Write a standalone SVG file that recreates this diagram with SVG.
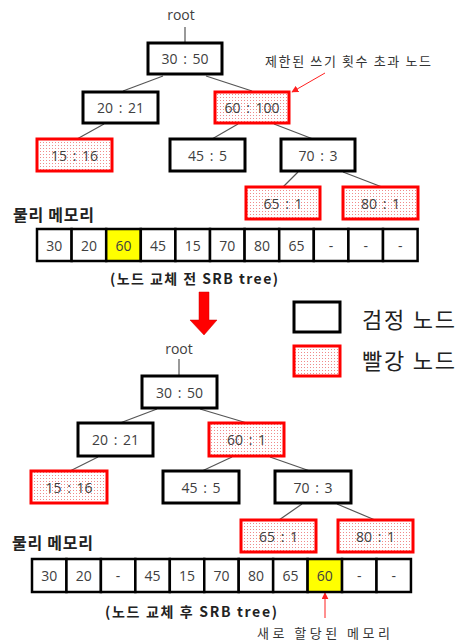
<svg xmlns="http://www.w3.org/2000/svg" width="460" height="643" viewBox="0 0 460 643">
<defs>
<pattern id="dots" width="3" height="3" patternUnits="userSpaceOnUse">
<rect width="3" height="3" fill="#ffffff"/>
<rect x="1" y="1" width="1" height="1" fill="#f08a8a"/>
</pattern>
<marker id="ah" viewBox="0 0 10 10" refX="9" refY="5" markerWidth="7" markerHeight="7" orient="auto-start-reverse" markerUnits="userSpaceOnUse">
<path d="M0,0 L10,5 L0,10 z" fill="#ff2020"/>
</marker>
<style>
.b{fill:#ffffff;stroke:#000000;stroke-width:3}
.r{fill:url(#dots);stroke:#ff0000;stroke-width:3}
.t{font-family:"Open Sans","Noto Sans CJK KR",sans-serif;font-size:14px;fill:#404040;text-anchor:middle;dominant-baseline:central;word-spacing:2px}
.c{stroke:#555555;stroke-width:1.2;fill:none}
.m{fill:#ffffff;stroke:#000000;stroke-width:2.5}
.my{fill:#ffff00;stroke:#000000;stroke-width:2.5}
.lbl{font-family:"Noto Sans CJK KR",sans-serif;font-size:16px;font-weight:bold;fill:#222222}
.cap{font-family:"Noto Sans CJK KR",sans-serif;font-size:14px;font-weight:bold;fill:#222222;dominant-baseline:central}
.ann{font-family:"Noto Sans CJK KR",sans-serif;font-size:13px;fill:#333333;dominant-baseline:central}
.leg{font-family:"Noto Sans CJK KR",sans-serif;font-size:22px;fill:#222222;dominant-baseline:central}
</style>
</defs>

<!-- connectors -->
<g id="connectors">
<line class="c" x1="185" y1="27" x2="185" y2="43"/>
<line class="c" x1="163" y1="76" x2="123" y2="91"/>
<line class="c" x1="206" y1="76" x2="252" y2="91"/>
<line class="c" x1="104" y1="124" x2="77" y2="139"/>
<line class="c" x1="238" y1="124" x2="212" y2="139"/>
<line class="c" x1="274" y1="124" x2="313" y2="139"/>
<line class="c" x1="298" y1="172" x2="283" y2="187"/>
<line class="c" x1="343" y1="172" x2="382" y2="187"/>
<line x1="325" y1="73" x2="292" y2="92" stroke="#ff2020" stroke-width="1" marker-end="url(#ah)"/>

<line class="c" x1="179" y1="359" x2="179" y2="376"/>
<line class="c" x1="157" y1="409" x2="120" y2="423"/>
<line class="c" x1="200" y1="409" x2="247" y2="423"/>
<line class="c" x1="98" y1="457" x2="70" y2="471"/>
<line class="c" x1="232" y1="457" x2="202" y2="471"/>
<line class="c" x1="270" y1="457" x2="310" y2="471"/>
<line class="c" x1="302" y1="504" x2="279" y2="520"/>
<line class="c" x1="337" y1="504" x2="375" y2="520"/>
<line x1="325" y1="618" x2="325" y2="593" stroke="#ff2020" stroke-width="1" marker-end="url(#ah)"/>
</g>

<!-- top tree -->
<text class="t" x="181" y="14">root</text>
<g id="t-30"><rect class="b" x="148" y="43" width="74" height="31"/><text class="t" x="185" y="58.5">30 : 50</text></g>
<g id="t-20"><rect class="b" x="83" y="92" width="75" height="31"/><text class="t" x="120.5" y="107.5">20 : 21</text></g>
<g id="t-60"><rect class="r" x="215" y="92" width="74" height="31"/><text class="t" x="252" y="107.5">60 : 100</text></g>
<g id="t-15"><rect class="r" x="37" y="139" width="75" height="32"/><text class="t" x="74.5" y="155">15 : 16</text></g>
<g id="t-45"><rect class="b" x="170" y="139" width="75" height="32"/><text class="t" x="207.5" y="155">45 : 5</text></g>
<g id="t-70"><rect class="b" x="281" y="139" width="74" height="32"/><text class="t" x="318" y="155">70 : 3</text></g>
<g id="t-65"><rect class="r" x="246" y="187" width="74" height="32"/><text class="t" x="283" y="203">65 : 1</text></g>
<g id="t-80"><rect class="r" x="343" y="187" width="75" height="32"/><text class="t" x="380.5" y="203">80 : 1</text></g>
<text class="ann" x="265" y="60" textLength="166" lengthAdjust="spacing">제한된 쓰기 횟수 초과 노드</text>

<!-- top memory -->
<text class="lbl" x="13" y="221" textLength="81" lengthAdjust="spacing">물리 메모리</text>
<g id="mem-top">
<rect class="m" x="37" y="229" width="34.6" height="32"/>
<rect class="m" x="71.6" y="229" width="34.6" height="32"/>
<rect class="my" x="106.2" y="229" width="34.6" height="32"/>
<rect class="m" x="140.8" y="229" width="34.6" height="32"/>
<rect class="m" x="175.4" y="229" width="34.6" height="32"/>
<rect class="m" x="210" y="229" width="34.6" height="32"/>
<rect class="m" x="244.6" y="229" width="34.6" height="32"/>
<rect class="m" x="279.2" y="229" width="34.6" height="32"/>
<rect class="m" x="313.8" y="229" width="34.6" height="32"/>
<rect class="m" x="348.4" y="229" width="34.6" height="32"/>
<rect class="m" x="383" y="229" width="34.6" height="32"/>
<text class="t" x="54.3" y="245">30</text>
<text class="t" x="88.9" y="245">20</text>
<text class="t" x="123.5" y="245">60</text>
<text class="t" x="158.1" y="245">45</text>
<text class="t" x="192.7" y="245">15</text>
<text class="t" x="227.3" y="245">70</text>
<text class="t" x="261.9" y="245">80</text>
<text class="t" x="296.5" y="245">65</text>
<text class="t" x="331.1" y="245">-</text>
<text class="t" x="365.7" y="245">-</text>
<text class="t" x="400.3" y="245">-</text>
</g>
<text class="cap" x="110" y="278" textLength="168" lengthAdjust="spacing">(노드 교체 전 SRB tree)</text>

<!-- big arrow -->
<path d="M199,292 L209,292 L209,320 L217,320 L204,335 L190,320 L199,320 Z" fill="#ff0000" stroke="#cc0000" stroke-width="0.5"/>

<!-- legend -->
<g id="legend-black"><rect class="b" x="294" y="302" width="46" height="30"/><text class="leg" x="362" y="318" textLength="93" lengthAdjust="spacing">검정 노드</text></g>
<g id="legend-red"><rect class="r" x="294" y="346" width="46" height="30"/><text class="leg" x="362" y="359" textLength="93" lengthAdjust="spacing">빨강 노드</text></g>

<!-- bottom tree -->
<text class="t" x="179" y="348">root</text>
<g id="b-30"><rect class="b" x="142" y="376" width="75" height="32"/><text class="t" x="179.5" y="392">30 : 50</text></g>
<g id="b-20"><rect class="b" x="78" y="423" width="75" height="33"/><text class="t" x="115.5" y="439.5">20 : 21</text></g>
<g id="b-60"><rect class="r" x="209" y="423" width="75" height="33"/><text class="t" x="246.5" y="439.5">60 : 1</text></g>
<g id="b-15"><rect class="r" x="31" y="471" width="76" height="32"/><text class="t" x="69" y="487">15 : 16</text></g>
<g id="b-45"><rect class="b" x="163" y="471" width="76" height="32"/><text class="t" x="201" y="487">45 : 5</text></g>
<g id="b-70"><rect class="b" x="275" y="471" width="76" height="32"/><text class="t" x="313" y="487">70 : 3</text></g>
<g id="b-65"><rect class="r" x="241" y="520" width="75" height="32"/><text class="t" x="278.5" y="536">65 : 1</text></g>
<g id="b-80"><rect class="r" x="338" y="520" width="75" height="32"/><text class="t" x="375.5" y="536">80 : 1</text></g>

<!-- bottom memory -->
<text class="lbl" x="12" y="549" textLength="81" lengthAdjust="spacing">물리 메모리</text>
<g id="mem-bottom">
<rect class="m" x="32" y="559" width="34.45" height="33"/>
<rect class="m" x="66.45" y="559" width="34.45" height="33"/>
<rect class="m" x="100.9" y="559" width="34.45" height="33"/>
<rect class="m" x="135.35" y="559" width="34.45" height="33"/>
<rect class="m" x="169.8" y="559" width="34.45" height="33"/>
<rect class="m" x="204.25" y="559" width="34.45" height="33"/>
<rect class="m" x="238.7" y="559" width="34.45" height="33"/>
<rect class="m" x="273.15" y="559" width="34.45" height="33"/>
<rect class="my" x="307.6" y="559" width="34.45" height="33"/>
<rect class="m" x="342.05" y="559" width="34.45" height="33"/>
<rect class="m" x="376.5" y="559" width="34.45" height="33"/>
<text class="t" x="49.2" y="575.5">30</text>
<text class="t" x="83.7" y="575.5">20</text>
<text class="t" x="118.1" y="575.5">-</text>
<text class="t" x="152.6" y="575.5">45</text>
<text class="t" x="187" y="575.5">15</text>
<text class="t" x="221.5" y="575.5">70</text>
<text class="t" x="255.9" y="575.5">80</text>
<text class="t" x="290.4" y="575.5">65</text>
<text class="t" x="324.8" y="575.5">60</text>
<text class="t" x="359.3" y="575.5">-</text>
<text class="t" x="393.7" y="575.5">-</text>
</g>
<text class="cap" x="105" y="611" textLength="172" lengthAdjust="spacing">(노드 교체 후 SRB tree)</text>
<text class="ann" x="257" y="632" textLength="133" lengthAdjust="spacing">새로 할당된 메모리</text>
</svg>
